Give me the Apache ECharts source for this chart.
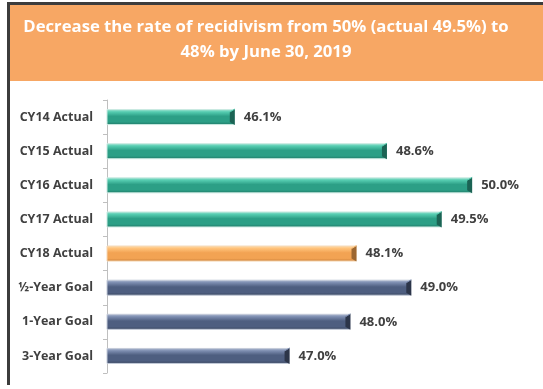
<!DOCTYPE html>
<html>
<head>
<meta charset="utf-8">
<script src="https://cdn.jsdelivr.net/npm/echarts@6/dist/echarts.min.js"></script>
<style>
html,body{margin:0;padding:0;background:#fff;}
#c{width:543px;height:389px;}
</style>
</head>
<body>
<div id="c"></div>
<script>
const titleLines = ['Decrease the rate of recidivism from 50% (actual 49.5%) to', '48% by June 30, 2019'];
const categories = ['CY14 Actual', 'CY15 Actual', 'CY16 Actual', 'CY17 Actual', 'CY18 Actual', '½-Year Goal', '1-Year Goal', '3-Year Goal'];
const values = [46.1, 48.6, 50.0, 49.5, 48.1, 49.0, 48.0, 47.0];
const groups = ['actual', 'actual', 'actual', 'actual', 'current', 'goal', 'goal', 'goal'];

const palette = {
  actual: {top: '#a7e6d6', hi: '#55ccb0', mid: '#2c9f86', low: '#1f7564', end: '#1b6354', border: '#c9e9e1'},
  current: {top: '#ffe2b8', hi: '#ffc27a', mid: '#f2a353', low: '#c97e38', end: '#9c6630', border: '#f4d6b4'},
  goal: {top: '#b8c3d8', hi: '#7d8db0', mid: '#4e5e80', low: '#39465f', end: '#2c3549', border: '#c3cad8'}
};

function grad(p) {
  return new echarts.graphic.LinearGradient(0, 0, 0, 1, [
    {offset: 0, color: p.top},
    {offset: 0.18, color: p.hi},
    {offset: 0.45, color: p.mid},
    {offset: 0.8, color: p.mid},
    {offset: 1, color: p.low}
  ]);
}

const chart = echarts.init(document.getElementById('c'), null, {renderer: 'canvas'});
const barW = 16;
chart.setOption({
  animation: false,
  backgroundColor: '#fff',
  graphic: [
    {type: 'rect', shape: {x: 10, y: 5, width: 533, height: 76}, style: {fill: '#F7A764'}, z: 1},
    {type: 'rect', shape: {x: 7, y: 3, width: 3, height: 382}, style: {fill: '#3c3c3c'}, z: 2},
    {type: 'rect', shape: {x: 7, y: 2, width: 536, height: 3}, style: {fill: '#3c3c3c'}, z: 2},
    {type: 'text', x: 266, y: 27, style: {text: titleLines[0], fill: '#fff', font: 'bold 16.7px "Open Sans"', textAlign: 'center', textVerticalAlign: 'middle'}, z: 3},
    {type: 'text', x: 266, y: 52, style: {text: titleLines[1], fill: '#fff', font: 'bold 16.7px "Open Sans"', textAlign: 'center', textVerticalAlign: 'middle'}, z: 3}
  ],
  grid: {left: 107, right: 10, top: 100, bottom: 16, containLabel: false},
  xAxis: {
    type: 'value', min: 44, max: 51, show: false
  },
  yAxis: {
    type: 'category', data: categories, inverse: true,
    axisLine: {show: true, lineStyle: {color: '#bfbfbf', width: 1}},
    axisTick: {show: true, length: 4, lineStyle: {color: '#bfbfbf'}},
    axisLabel: {color: '#404040', fontFamily: 'Open Sans', fontWeight: 'bold', fontSize: 12.5, margin: 14}
  },
  series: [
    {
      type: 'bar',
      barWidth: barW,
      data: values.map((v, i) => ({
        value: v,
        itemStyle: {color: grad(palette[groups[i]]), borderColor: palette[groups[i]].border, borderWidth: 1}
      })),
      label: {
        show: true, position: 'right', distance: 9,
        formatter: p => p.value.toFixed(1) + '%',
        color: '#404040', fontFamily: 'Open Sans', fontWeight: 'bold', fontSize: 13
      },
      z: 2
    },
    {
      type: 'custom',
      data: values.map((v, i) => [v, i]),
      renderItem: function (params, api) {
        const v = api.value(0), idx = api.value(1);
        const p = api.coord([v, idx]);
        const h = barW;
        const x1 = p[0], y0 = p[1] - h / 2, y1 = p[1] + h / 2;
        const c = palette[groups[idx]];
        return {
          type: 'group',
          children: [
            {type: 'polygon', shape: {points: [[x1 - 5, y0 + 3], [x1, y0], [x1, y1], [x1 - 5, y1 - 3]]}, style: {fill: c.end}},
            {type: 'line', shape: {x1: x1 - 5, y1: y0 + 3, x2: x1, y2: y0}, style: {stroke: c.hi, lineWidth: 1}}
          ]
        };
      },
      z: 3, silent: true
    }
  ]
});
</script>
</body>
</html>
